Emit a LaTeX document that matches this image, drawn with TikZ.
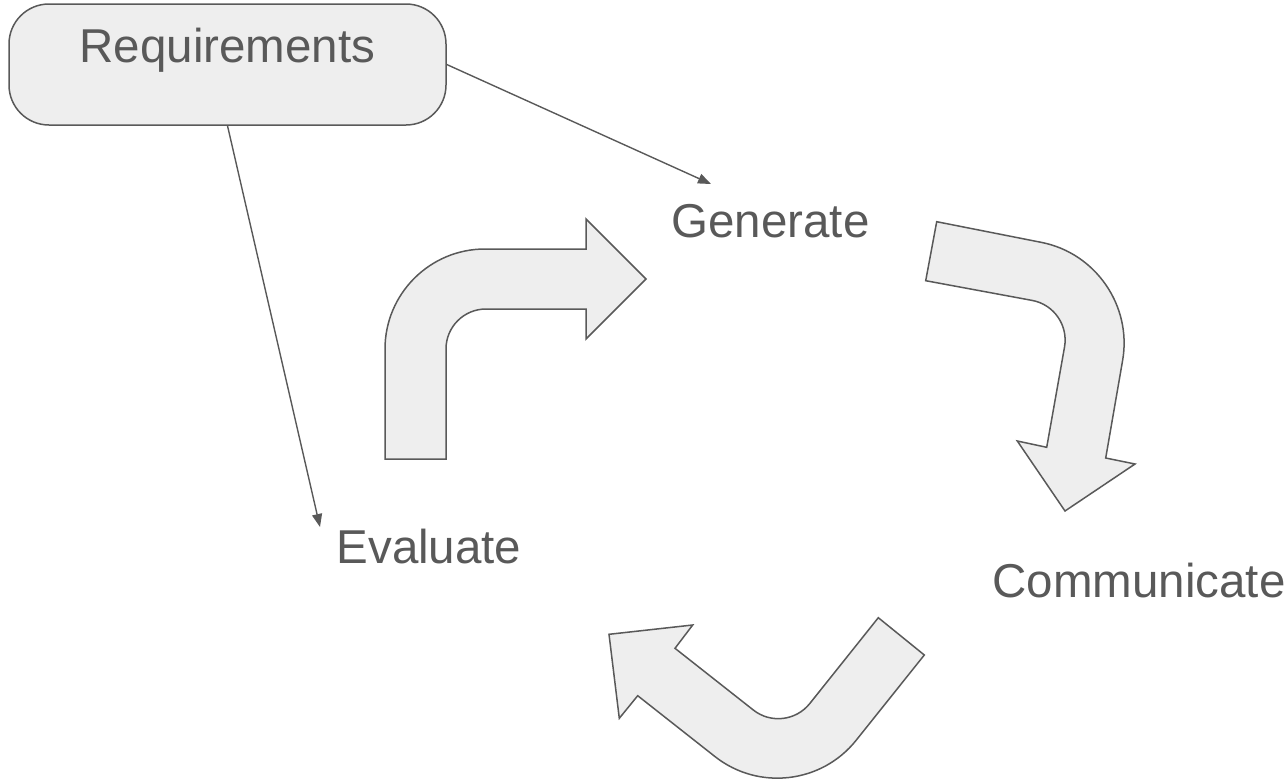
\documentclass[tikz,border=0pt]{standalone}
\usepackage{fontspec}
\setmainfont{Liberation Sans}
\usetikzlibrary{calc,arrows.meta}
\definecolor{ink}{HTML}{595959}
\definecolor{pale}{HTML}{EEEEEE}
\begin{document}
\begin{tikzpicture}[x=1pt,y=-1pt,
  box/.style={draw=ink, fill=pale, line width=1.5pt, rounded corners=40pt, minimum width=437pt, minimum height=121pt, inner sep=0pt},
  lbl/.style={text=ink, font=\fontsize{47.5}{57}\selectfont, anchor=base, inner sep=0pt},
  conn/.style={draw=ink, line width=1.4pt, -{Triangle[length=13pt,width=10pt]}},
  blk/.style={draw=ink, fill=pale, line width=1.5pt, line join=miter}]
\useasboundingbox (0,0) rectangle (1287,779);

% Requirements box
\node[box] (req) at (227.5,64.5) {};
\node[lbl] (reqt) at (227.5,62) {Requirements};

% labels
\node[lbl] (gen) at (770.5,237) {Generate};
\node[lbl] (eva) at (429,563) {Evaluate};
\node[lbl] (com) at (1139,597) {Communicate};

% connector ends
\coordinate (genin) at (711,184);
\coordinate (evain) at (320,527);
\draw[conn] (req.east) -- (genin);
\draw[conn] (req.south) -- (evain);

% ---- block arrow 1 (Evaluate -> Generate)
\coordinate (a1t) at (385,459);
\coordinate (a1o) at (385,249);
\coordinate (a1s) at (586,249);
\coordinate (a1e) at (586,309);
\coordinate (a1i) at (446,309);
\coordinate (a1u) at (446,459);
\draw[blk] (a1t) -- ($(a1o)!100pt!(a1t)$)
  .. controls ($(a1o)!44.8pt!(a1t)$) and ($(a1o)!44.8pt!(a1s)$) .. ($(a1o)!100pt!(a1s)$)
  -- (a1s) -- (586,219) -- (646,279) -- (586,339) -- (a1e)
  -- ($(a1i)!40pt!(a1e)$)
  .. controls ($(a1i)!17.9pt!(a1e)$) and ($(a1i)!17.9pt!(a1u)$) .. ($(a1i)!40pt!(a1u)$)
  -- (a1u) -- cycle;

% ---- block arrow 2 (Generate -> Communicate)
\coordinate (a2t) at (936.7,221.7);
\coordinate (a2o) at (1139.7,261.8);
\coordinate (a2s) at (1105.7,458);
\coordinate (a2e) at (1046.7,447.3);
\coordinate (a2i) at (1071.5,307.7);
\coordinate (a2u) at (925.7,280.7);
\draw[blk] (a2t) -- ($(a2o)!100pt!(a2t)$)
  .. controls ($(a2o)!44.8pt!(a2t)$) and ($(a2o)!44.8pt!(a2s)$) .. ($(a2o)!100pt!(a2s)$)
  -- (a2s) -- (1135,464) -- (1065,511) -- (1017.3,441) -- (a2e)
  -- ($(a2i)!40pt!(a2e)$)
  .. controls ($(a2i)!17.9pt!(a2e)$) and ($(a2i)!17.9pt!(a2u)$) .. ($(a2i)!40pt!(a2u)$)
  -- (a2u) -- cycle;

% ---- block arrow 3 (Communicate -> Evaluate)
\coordinate (a3t) at (924.3,655);
\coordinate (a3o) at (793.6,818.5);
\coordinate (a3s) at (637.7,695.7);
\coordinate (a3e) at (675,648.3);
\coordinate (a3i) at (784.8,734.8);
\coordinate (a3u) at (878.3,617.7);
\draw[blk] (a3t) -- ($(a3o)!100pt!(a3t)$)
  .. controls ($(a3o)!44.8pt!(a3t)$) and ($(a3o)!44.8pt!(a3s)$) .. ($(a3o)!100pt!(a3s)$)
  -- (a3s) -- (619.3,718.3) -- (609,634.3) -- (692.7,625) -- (a3e)
  -- ($(a3i)!40pt!(a3e)$)
  .. controls ($(a3i)!17.9pt!(a3e)$) and ($(a3i)!17.9pt!(a3u)$) .. ($(a3i)!40pt!(a3u)$)
  -- (a3u) -- cycle;
\end{tikzpicture}
\end{document}
